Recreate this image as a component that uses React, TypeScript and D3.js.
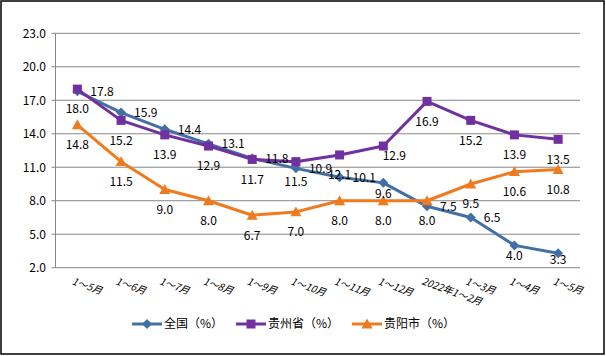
import React from "react";
import * as d3 from "d3";

const categories = ["1～5月","1～6月","1～7月","1～8月","1～9月","1～10月","1～11月","1～12月","2022年1～2月","1～3月","1～4月","1～5月"];
const national = [17.8,15.9,14.4,13.1,11.8,10.9,10.1,9.6,7.5,6.5,4.0,3.3];
const guizhou = [18.0,15.2,13.9,12.9,11.7,11.5,12.1,12.9,16.9,15.2,13.9,13.5];
const guiyang = [14.8,11.5,9.0,8.0,6.7,7.0,8.0,8.0,8.0,9.5,10.6,10.8];
const yTicks = [2,5,8,11,14,17,20,23];
const seriesNames = ["全国（%）","贵州省（%）","贵阳市（%）"];

const colors = ["#4270A4","#7030A0","#F07A1E"];
const labelPos = [
  ["r","r","r","r","r","r","r","b:11","r","r","b:10","b:6"],
  ["b","b","b","b","b","b","b","br","b","b","b","b"],
  ["b","b","b","b","b","b","b","b","b","b","b","b"],
];
const markers = ["diamond","square","triangle"];

const W = 606, H = 356;
const left = 55.5, right = 580, top = 33.3, bottom = 267.7;
const font = "'Noto Sans CJK SC', sans-serif";

function Marker({ type, x, y, color }: { type: string; x: number; y: number; color: string }) {
  if (type === "diamond") {
    const s = 5;
    return <path d={`M${x},${y - s}L${x + s},${y}L${x},${y + s}L${x - s},${y}Z`} fill={color} />;
  }
  if (type === "square") {
    const s = 4.5;
    return <rect x={x - s} y={y - s} width={2 * s} height={2 * s} fill={color} />;
  }
  const s = 5.5;
  return <path d={`M${x},${y - s}L${x + s},${y + s * 0.8}L${x - s},${y + s * 0.8}Z`} fill={color} />;
}

export default function App() {
  const x = d3.scaleBand<string>().domain(categories.map((c, i) => i + "")).range([left, right]);
  const cx = (i: number) => (x(i + "") as number) + x.bandwidth() / 2;
  const y = d3.scaleLinear().domain([2, 23]).range([bottom, top]);
  const data = [national, guizhou, guiyang];
  const line = d3.line<number>().x((_, i) => cx(i)).y((d) => y(d));

  return (
    <svg width={W} height={H} style={{ position: "absolute", left: 0, top: 0 }} fontFamily={font}>
      <rect x={0} y={0} width={W} height={H} fill="#fff" />
      <rect x={1} y={1} width={603} height={353} fill="none" stroke="#000" strokeWidth={1.5} />
      {yTicks.map((t) => (
        <g key={t}>
          <line x1={left - 4} x2={right} y1={y(t)} y2={y(t)} stroke="#878787" strokeWidth={1} />
          <text x={46} y={y(t)} dy="0.36em" textAnchor="end" fontSize={12} fill="#000">{t.toFixed(1)}</text>
        </g>
      ))}
      <line x1={left} x2={left} y1={top} y2={bottom} stroke="#878787" strokeWidth={1} />
      {categories.map((c, i) => (
        <text key={i} transform={`translate(${cx(i) - 6},${284}) rotate(20)`} fontSize={10} fontStyle="italic" fill="#000">{c}</text>
      ))}
      {data.map((s, k) => (
        <g key={k}>
          <path d={line(s) as string} fill="none" stroke={colors[k]} strokeWidth={3} strokeLinejoin="round" />
          {s.map((v, i) => <Marker key={i} type={markers[k]} x={cx(i)} y={y(v)} color={colors[k]} />)}
        </g>
      ))}
      {data.map((s, k) => (
        <g key={"l" + k}>
          {s.map((v, i) => {
            const p = labelPos[k][i];
            let lx = cx(i), ly = y(v), anchor = "middle";
            if (p === "r") { lx += 13; anchor = "start"; }
            else if (p.startsWith("b:")) { ly += Number(p.slice(2)); }
            else if (p === "b") { ly += 20; }
            else if (p === "br") { lx += 11; ly += 10; }
            return (
              <text key={i} x={lx} y={ly} dy="0.36em" textAnchor={anchor} fontSize={12} fill="#000">{v.toFixed(1)}</text>
            );
          })}
        </g>
      ))}
      {seriesNames.map((n, k) => {
        const lx = [132, 236, 352][k];
        const ly = 324;
        return (
          <g key={"lg" + k}>
            <line x1={lx} x2={lx + 30} y1={ly} y2={ly} stroke={colors[k]} strokeWidth={3} />
            <Marker type={markers[k]} x={lx + 15} y={ly} color={colors[k]} />
            <text x={lx + 32} y={ly} dy="0.36em" fontSize={12} fill="#000">{n}</text>
          </g>
        );
      })}
    </svg>
  );
}
